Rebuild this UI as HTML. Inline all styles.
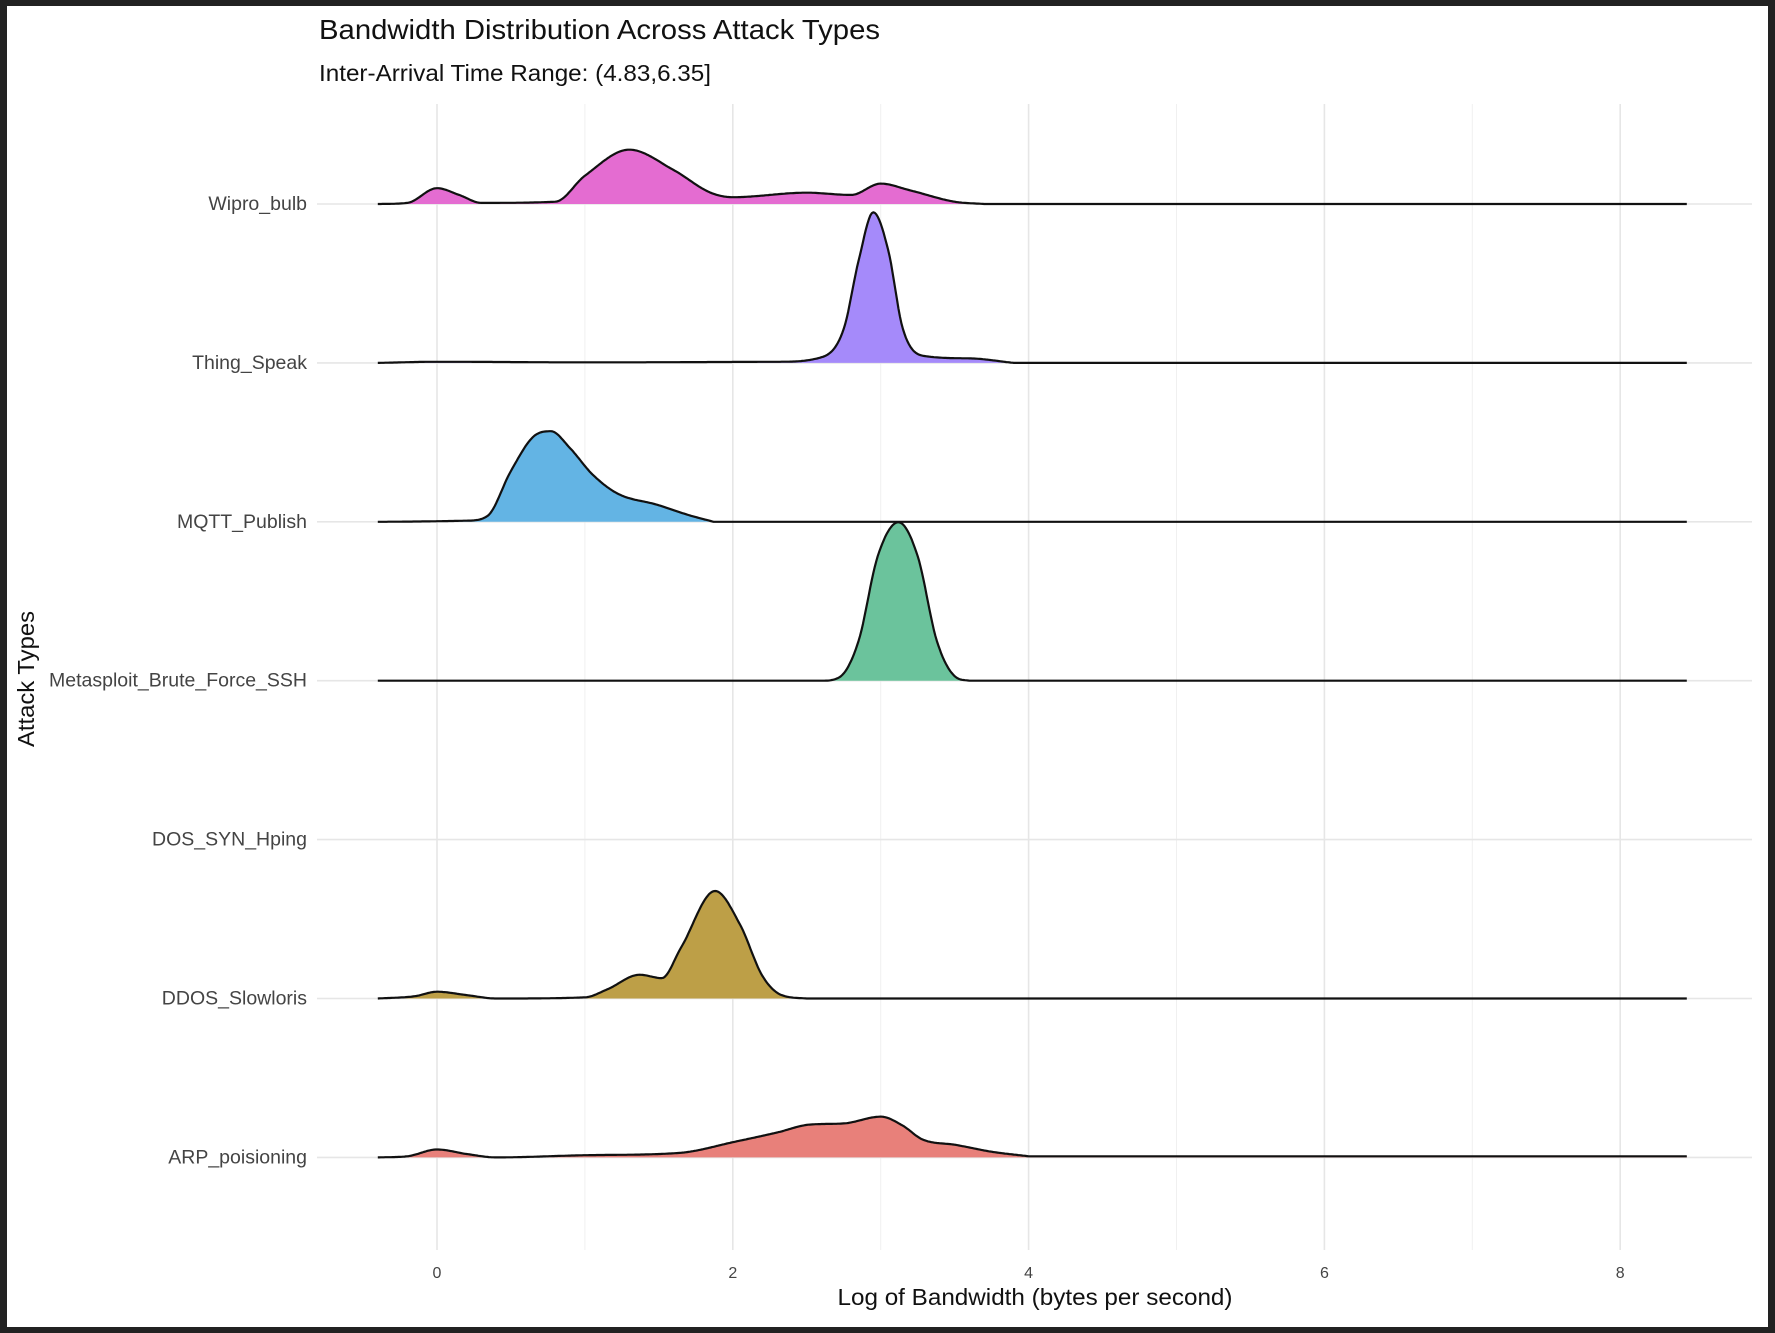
<!DOCTYPE html>
<html><head><meta charset="utf-8">
<style>
html,body{margin:0;padding:0;background:#222;}
#frame{position:absolute;left:0;top:0;width:1775px;height:1333px;background:#222;}
svg{position:absolute;left:0;top:0;}
text{font-family:"Liberation Sans",sans-serif;}
</style></head>
<body>
<div id="frame">
<svg id="chart" width="1775" height="1333">
<rect x="7" y="6" width="1761" height="1321" fill="#ffffff"/>
<text x="319" y="39" font-size="28" fill="#111" textLength="561" lengthAdjust="spacingAndGlyphs">Bandwidth Distribution Across Attack Types</text>
<text x="319" y="81" font-size="23" fill="#111" textLength="392" lengthAdjust="spacingAndGlyphs">Inter-Arrival Time Range: (4.83,6.35]</text>
<text transform="translate(34,679) rotate(-90)" text-anchor="middle" font-size="23" fill="#111" textLength="136" lengthAdjust="spacingAndGlyphs">Attack Types</text>
<text x="1035" y="1305" text-anchor="middle" font-size="23" fill="#111" textLength="395" lengthAdjust="spacingAndGlyphs">Log of Bandwidth (bytes per second)</text>
<g id="grid"></g>
<g id="ridges"></g>
<g id="labels"></g>
</svg>
</div>
<script>
const categories = ["Wipro_bulb","Thing_Speak","MQTT_Publish","Metasploit_Brute_Force_SSH","DOS_SYN_Hping","DDOS_Slowloris","ARP_poisioning"];
const colors = ["#e46cd1","#a58afa","#63b4e4","#6bc39c","#cccccc","#bd9f47","#e8807a"];
const xTicks = [0,2,4,6,8];
const xTickLabels = ["0","2","4","6","8"];
const wiproX = [-0.4,-0.2,0,0.15,0.3,0.8,1.0,1.3,1.6,1.85,2.0,2.5,2.8,3.0,3.2,3.5,3.7];
const wiproY = [0,1,14,8,1,2,25,48,30,10,6,10,8,18,12,2,0];
const thingX = [-0.4,0,1,2.3,2.6,2.75,2.85,2.95,3.05,3.15,3.3,3.6,3.9];
const thingY = [0,1,0.5,1,5,30,90,133,100,30,6,4,0];
const mqttX = [-0.4,0.2,0.34,0.5,0.65,0.77,0.9,1.05,1.22,1.49,1.7,1.87];
const mqttY = [0,1,5,45,75,80,65,42,25,15,6,0];
const metaX = [-0.4,2.6,2.72,2.85,2.98,3.12,3.25,3.38,3.51,3.6];
const metaY = [0,0,3,35,110,140,110,35,3,0];
const dosX = [];
const dosY = [];
const ddosX = [-0.4,-0.15,0,0.2,0.4,1.0,1.15,1.37,1.52,1.65,1.88,2.05,2.2,2.33,2.5];
const ddosY = [0,2,6,3,0,1,8,21,18,45,95,65,20,3,0];
const arpX = [-0.4,-0.2,0,0.2,0.4,1.03,1.64,2.02,2.3,2.52,2.75,3.0,3.15,3.28,3.51,3.75,4.0];
const arpY = [0,1,7,3,0,2,4,14,22,29,30,36,28,16,11,5,1];
const seriesX = [wiproX,thingX,mqttX,metaX,dosX,ddosX,arpX];
const seriesY = [wiproY,thingY,mqttY,metaY,dosY,ddosY,arpY];

const NS="http://www.w3.org/2000/svg";
const xScale = v => 437 + v*147.9;
const rowBase = i => 204 + i*158.9;
const yScale = d => d*1.132;
const grid=document.getElementById('grid'), ridges=document.getElementById('ridges'), labels=document.getElementById('labels');
function mk(tag,attrs,parent){const e=document.createElementNS(NS,tag);for(const k in attrs)e.setAttribute(k,attrs[k]);parent.appendChild(e);return e;}
for(let v=0; v<=8; v+=1){
  const g=mk('line',{x1:xScale(v),x2:xScale(v),y1:104,y2:1250,stroke:v%2===0?'#e6e6e6':'#f0f0f0','stroke-width':v%2===0?1.6:1},grid);
  
  
}
categories.forEach((c,i)=>{
  const g=mk('line',{x1:317,x2:1752,y1:rowBase(i),y2:rowBase(i),stroke:'#e6e6e6','stroke-width':1.6},grid);
  
  
  const t=mk('text',{x:307,y:rowBase(i)+6,'text-anchor':'end','font-size':19.5,fill:'#444'},labels);
  t.textContent=c;
  
  
});
xTicks.forEach((v,i)=>{
  const t=mk('text',{x:xScale(v),y:1278,'text-anchor':'middle','font-size':16,fill:'#444'},labels);
  t.textContent=xTickLabels[i];
  
  
});
function monotone(xs,ys){
  const n=xs.length, d=[], m=new Array(n).fill(0);
  for(let i=0;i<n-1;i++) d.push((ys[i+1]-ys[i])/(xs[i+1]-xs[i]));
  for(let i=1;i<n-1;i++){ m[i]= d[i-1]*d[i]<=0 ? 0 : (d[i-1]+d[i])/2; }
  m[0]=d[0]; m[n-1]=d[n-2];
  for(let i=0;i<n-1;i++){
    if(d[i]===0){m[i]=0;m[i+1]=0;continue;}
    const a=m[i]/d[i], b=m[i+1]/d[i], s=a*a+b*b;
    if(s>9){const t=3/Math.sqrt(s); m[i]=t*a*d[i]; m[i+1]=t*b*d[i];}
  }
  return x=>{
    if(x<=xs[0]) return ys[0];
    if(x>=xs[n-1]) return ys[n-1];
    let k=0; while(x>xs[k+1]) k++;
    const h=xs[k+1]-xs[k], t=(x-xs[k])/h, t2=t*t, t3=t2*t;
    return (2*t3-3*t2+1)*ys[k]+(t3-2*t2+t)*h*m[k]+(-2*t3+3*t2)*ys[k+1]+(t3-t2)*h*m[k+1];
  };
}
categories.forEach((c,i)=>{
  const xs=seriesX[i], ys=seriesY[i], b=rowBase(i);
  if(!xs.length) return;
  const f=monotone(xs,ys);
  let line='';
  for(let x=-0.4; x<=8.451; x+=0.01){
    const y=Math.max(0,f(x));
    line+=(line?' L':'M')+xScale(x).toFixed(1)+','+(b-yScale(y)).toFixed(1);
  }
  const area=mk('path',{d:line+` L${xScale(8.45)},${b} L${xScale(-0.4)},${b} Z`,fill:colors[i],stroke:'none'},ridges);
  
  
  const ln=mk('path',{d:line,fill:'none',stroke:'#111','stroke-width':2.2,'stroke-linejoin':'round'},ridges);
  
  
});
</script>
</body></html>
